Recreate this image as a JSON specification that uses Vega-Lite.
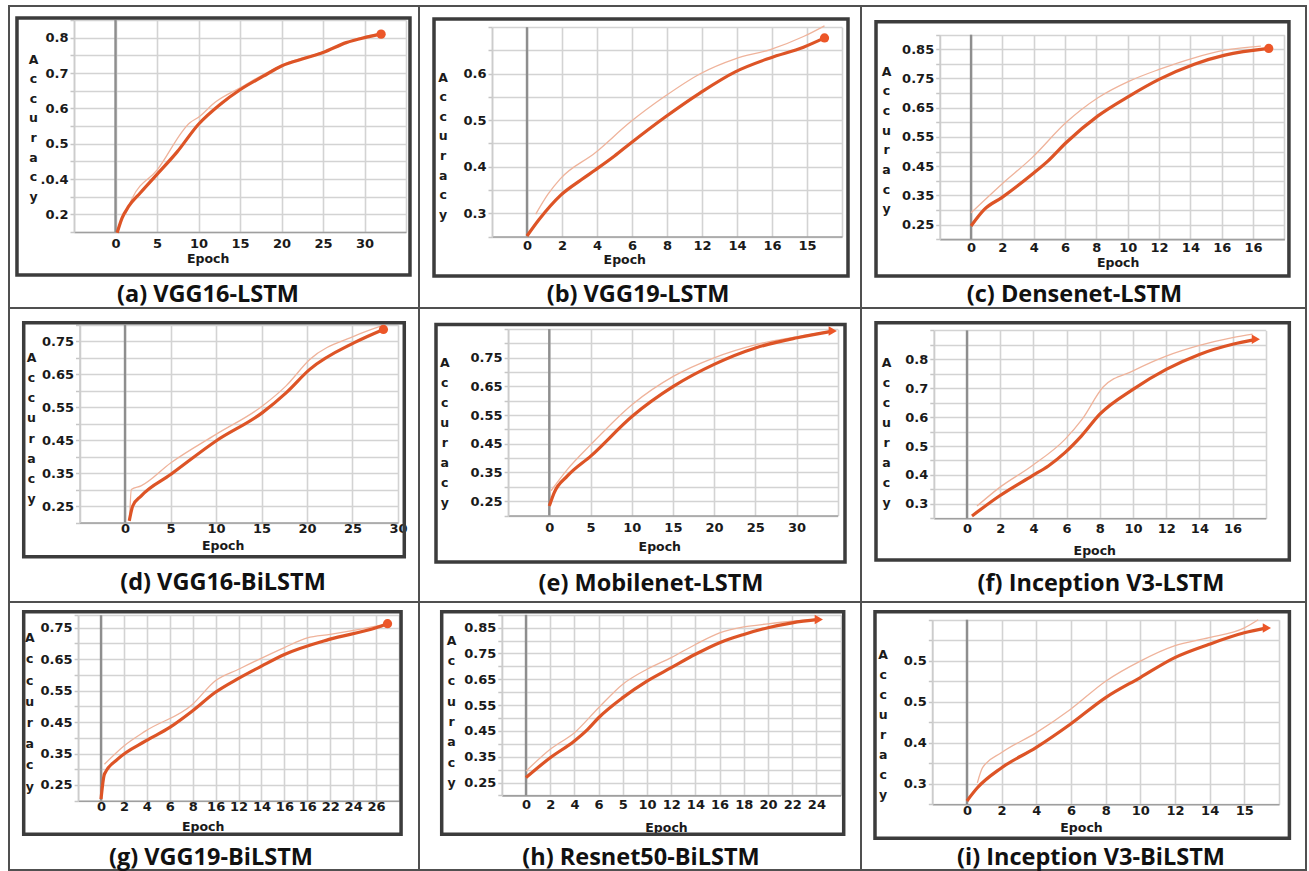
{
  "$schema": "https://vega.github.io/schema/vega-lite/v6.json",
  "padding": {"left": 8, "top": 5, "right": 4, "bottom": 2},
  "background": "white",
  "columns": 3,
  "spacing": 0,
  "bounds": "flush",
  "config": {
    "view": {"stroke": "#505050", "strokeWidth": 2, "fill": "white"},
    "axis": {
      "labelFont": "DejaVu Sans", "labelFontWeight": "bold", "labelFontSize": 13, "labelColor": "#1a1a1a",
      "titleFont": "DejaVu Sans", "titleFontWeight": "bold", "titleFontSize": 12.5, "titleColor": "#1a1a1a",
      "gridColor": "#d3d3d3", "gridWidth": 1.6, "labelOverlap": false
    },
    "title": {"font": "Open Sans", "fontWeight": "bold", "fontSize": 23.5, "color": "#111111", "anchor": "middle", "frame": "group"}
  },
  "concat": [
    {
      "width": 410, "height": 302,
      "title": {"text": "(a) VGG16-LSTM", "orient": "bottom", "offset": -25, "dx": -6},
      "data": {"values": [
        {"epoch": 0.2, "accuracy": 0.248, "series": "training"},
        {"epoch": 0.8, "accuracy": 0.29, "series": "training"},
        {"epoch": 1.6, "accuracy": 0.323, "series": "training"},
        {"epoch": 3, "accuracy": 0.361, "series": "training"},
        {"epoch": 5, "accuracy": 0.413, "series": "training"},
        {"epoch": 7.4, "accuracy": 0.476, "series": "training"},
        {"epoch": 10, "accuracy": 0.555, "series": "training"},
        {"epoch": 12.6, "accuracy": 0.611, "series": "training"},
        {"epoch": 15.1, "accuracy": 0.654, "series": "training"},
        {"epoch": 17.8, "accuracy": 0.691, "series": "training"},
        {"epoch": 20, "accuracy": 0.72, "series": "training"},
        {"epoch": 23, "accuracy": 0.743, "series": "training"},
        {"epoch": 25, "accuracy": 0.758, "series": "training"},
        {"epoch": 27.8, "accuracy": 0.786, "series": "training"},
        {"epoch": 30, "accuracy": 0.8, "series": "training"},
        {"epoch": 32, "accuracy": 0.81, "series": "training"},
        {"epoch": 1.2, "accuracy": 0.3, "series": "validation"},
        {"epoch": 2, "accuracy": 0.345, "series": "validation"},
        {"epoch": 5, "accuracy": 0.425, "series": "validation"},
        {"epoch": 9, "accuracy": 0.56, "series": "validation"},
        {"epoch": 10, "accuracy": 0.575, "series": "validation"},
        {"epoch": 12, "accuracy": 0.617, "series": "validation"},
        {"epoch": 15, "accuracy": 0.658, "series": "validation"},
        {"epoch": 20, "accuracy": 0.722, "series": "validation"},
        {"epoch": 25, "accuracy": 0.76, "series": "validation"},
        {"epoch": 30, "accuracy": 0.803, "series": "validation"},
        {"epoch": 32, "accuracy": 0.812, "series": "validation"}
      ]},
      "layer": [
        {"data": {"values": [{}]}, "mark": {"type": "rect", "filled": false, "stroke": "#3c3c3c", "strokeWidth": 3.5},
         "encoding": {"x": {"datum": -11.87}, "x2": {"datum": 35.48}, "y": {"datum": 0.1283}, "y2": {"datum": 0.8557}}},
        {"data": {"values": [{}]}, "mark": {"type": "rule", "color": "#8e8e8e", "strokeWidth": 2.4},
         "encoding": {"x": {"datum": 0}, "y": {"datum": 0.25}, "y2": {"datum": 0.85}}},
        {"transform": [{"filter": "datum.series == 'validation'"}],
         "mark": {"type": "line", "interpolate": "monotone", "color": "#efb39b", "strokeWidth": 1.3},
         "encoding": {"x": {"field": "epoch", "type": "quantitative"}, "y": {"field": "accuracy", "type": "quantitative"}}},
        {"transform": [{"filter": "datum.series == 'training'"}],
         "mark": {"type": "line", "interpolate": "monotone", "color": "#dd5426", "strokeWidth": 3.2},
         "encoding": {
           "x": {"field": "epoch", "type": "quantitative",
             "scale": {"domain": [-5, 35], "range": [65, 397], "nice": false, "zero": false},
             "axis": {"orient": "top", "offset": -226, "values": [-5, 0, 5, 10, 15, 20, 25, 30, 35], "tickCount": 100,
               "labelExpr": "['','0','5','10','15','20','25','30',''][round((datum.value+5)/5)]",
               "grid": true, "ticks": false, "tickSize": 0, "labelPadding": -11, "labelBaseline": "middle", "labelAlign": "center",
               "labelOverlap": false, "labelFlush": false, "domainColor": "#9f9f9f", "domainWidth": 1.6,
               "title": "Epoch", "titleX": 198.7, "titleY": 26, "titleAlign": "center", "titleBaseline": "middle", "titleAngle": 0}},
           "y": {"field": "accuracy", "type": "quantitative",
             "scale": {"domain": [0.25, 0.85], "range": [226, 14], "nice": false, "zero": false},
             "axis": {"orient": "left", "offset": -65, "values": [0.25, 0.3, 0.35, 0.4, 0.45, 0.5, 0.55, 0.6, 0.65, 0.7, 0.75, 0.8, 0.85], "tickCount": 100,
               "labelExpr": "['','0.2','','.0.4','','0.5','','0.6','','0.7','','0.8',''][round((datum.value-0.25)/0.05)]",
               "grid": true, "tickSize": 4, "tickColor": "#c6c6c6", "tickWidth": 1.5, "labelPadding": 2,
               "labelOverlap": false, "labelFlush": false, "domainColor": "#cccccc", "domainWidth": 1.6,
               "title": ["A", "c", "c", "u", "r", "a", "c", "y"], "titleX": -41, "titleY": 53, "titleAlign": "center", "titleBaseline": "middle", "titleAngle": 0, "titleLineHeight": 19.6}}}},
        {"transform": [{"filter": "datum.series == 'training'"}, {"joinaggregate": [{"op": "max", "field": "epoch", "as": "last"}]}, {"filter": "datum.epoch == datum.last"}],
         "mark": {"type": "point", "shape": "circle", "filled": true, "size": 85, "color": "#ec5628", "opacity": 1},
         "encoding": {"x": {"field": "epoch", "type": "quantitative"}, "y": {"field": "accuracy", "type": "quantitative"}}}
      ]
    },
    {
      "width": 442, "height": 302,
      "title": {"text": "(b) VGG19-LSTM", "orient": "bottom", "offset": -25, "dx": -2},
      "data": {"values": [
        {"epoch": 0, "accuracy": 0.251, "series": "training"},
        {"epoch": 0.7, "accuracy": 0.287, "series": "training"},
        {"epoch": 1.9, "accuracy": 0.338, "series": "training"},
        {"epoch": 3.1, "accuracy": 0.372, "series": "training"},
        {"epoch": 3.9, "accuracy": 0.393, "series": "training"},
        {"epoch": 5, "accuracy": 0.423, "series": "training"},
        {"epoch": 5.9, "accuracy": 0.45, "series": "training"},
        {"epoch": 7.9, "accuracy": 0.507, "series": "training"},
        {"epoch": 9.9, "accuracy": 0.559, "series": "training"},
        {"epoch": 11.9, "accuracy": 0.604, "series": "training"},
        {"epoch": 13.9, "accuracy": 0.634, "series": "training"},
        {"epoch": 15.8, "accuracy": 0.657, "series": "training"},
        {"epoch": 17, "accuracy": 0.677, "series": "training"},
        {"epoch": 0.5, "accuracy": 0.298, "series": "validation"},
        {"epoch": 1.2, "accuracy": 0.341, "series": "validation"},
        {"epoch": 1.9, "accuracy": 0.374, "series": "validation"},
        {"epoch": 3.9, "accuracy": 0.43, "series": "validation"},
        {"epoch": 5.9, "accuracy": 0.496, "series": "validation"},
        {"epoch": 7.9, "accuracy": 0.552, "series": "validation"},
        {"epoch": 9.9, "accuracy": 0.6, "series": "validation"},
        {"epoch": 11.9, "accuracy": 0.632, "series": "validation"},
        {"epoch": 13.9, "accuracy": 0.652, "series": "validation"},
        {"epoch": 15.8, "accuracy": 0.68, "series": "validation"},
        {"epoch": 17, "accuracy": 0.703, "series": "validation"}
      ]},
      "layer": [
        {"data": {"values": [{}]}, "mark": {"type": "rect", "filled": false, "stroke": "#3c3c3c", "strokeWidth": 3.5},
         "encoding": {"x": {"datum": -5.314}, "x2": {"datum": 18.343}, "y": {"datum": 0.1649}, "y2": {"datum": 0.7176}}},
        {"data": {"values": [{}]}, "mark": {"type": "rule", "color": "#8e8e8e", "strokeWidth": 2.4},
         "encoding": {"x": {"datum": 0}, "y": {"datum": 0.25}, "y2": {"datum": 0.7}}},
        {"transform": [{"filter": "datum.series == 'validation'"}],
         "mark": {"type": "line", "interpolate": "monotone", "color": "#efb39b", "strokeWidth": 1.3},
         "encoding": {"x": {"field": "epoch", "type": "quantitative"}, "y": {"field": "accuracy", "type": "quantitative"}}},
        {"transform": [{"filter": "datum.series == 'training'"}],
         "mark": {"type": "line", "interpolate": "monotone", "color": "#dd5426", "strokeWidth": 3.2},
         "encoding": {
           "x": {"field": "epoch", "type": "quantitative",
             "scale": {"domain": [-2, 18], "range": [73, 423], "nice": false, "zero": false},
             "axis": {"orient": "top", "offset": -230.5, "values": [-2, 0, 2, 4, 6, 8, 10, 12, 14, 16, 18], "tickCount": 100,
               "labelExpr": "['','0','2','4','6','8','12','14','16','15',''][round((datum.value+2)/2)]",
               "grid": true, "ticks": false, "tickSize": 0, "labelPadding": -9, "labelBaseline": "middle", "labelAlign": "center",
               "labelOverlap": false, "labelFlush": false, "domainColor": "#9f9f9f", "domainWidth": 1.6,
               "title": "Epoch", "titleX": 205.3, "titleY": 23, "titleAlign": "center", "titleBaseline": "middle", "titleAngle": 0}},
           "y": {"field": "accuracy", "type": "quantitative",
             "scale": {"domain": [0.25, 0.7], "range": [230.5, 21.2], "nice": false, "zero": false},
             "axis": {"orient": "left", "offset": -73, "values": [0.25, 0.3, 0.35, 0.4, 0.45, 0.5, 0.55, 0.6, 0.65, 0.7], "tickCount": 100,
               "labelExpr": "['','0.3','','0.4','','0.5','','0.6','',''][round((datum.value-0.25)/0.05)]",
               "grid": true, "tickSize": 4, "tickColor": "#c6c6c6", "tickWidth": 1.5, "labelPadding": 2,
               "labelOverlap": false, "labelFlush": false, "domainColor": "#cccccc", "domainWidth": 1.6,
               "title": ["A", "c", "c", "u", "r", "a", "c", "y"], "titleX": -49.3, "titleY": 71, "titleAlign": "center", "titleBaseline": "middle", "titleAngle": 0, "titleLineHeight": 19.6}}}},
        {"transform": [{"filter": "datum.series == 'training'"}, {"joinaggregate": [{"op": "max", "field": "epoch", "as": "last"}]}, {"filter": "datum.epoch == datum.last"}],
         "mark": {"type": "point", "shape": "circle", "filled": true, "size": 85, "color": "#ec5628", "opacity": 1},
         "encoding": {"x": {"field": "epoch", "type": "quantitative"}, "y": {"field": "accuracy", "type": "quantitative"}}}
      ]
    },
    {
      "width": 445, "height": 302,
      "title": {"text": "(c) Densenet-LSTM", "orient": "bottom", "offset": -25, "dx": -9},
      "data": {"values": [
        {"epoch": 0, "accuracy": 0.245, "series": "training"},
        {"epoch": 0.85, "accuracy": 0.302, "series": "training"},
        {"epoch": 1.96, "accuracy": 0.342, "series": "training"},
        {"epoch": 3.9, "accuracy": 0.422, "series": "training"},
        {"epoch": 4.9, "accuracy": 0.467, "series": "training"},
        {"epoch": 6.06, "accuracy": 0.53, "series": "training"},
        {"epoch": 8.1, "accuracy": 0.622, "series": "training"},
        {"epoch": 10.1, "accuracy": 0.69, "series": "training"},
        {"epoch": 12, "accuracy": 0.747, "series": "training"},
        {"epoch": 14.25, "accuracy": 0.799, "series": "training"},
        {"epoch": 16.2, "accuracy": 0.83, "series": "training"},
        {"epoch": 19, "accuracy": 0.853, "series": "training"},
        {"epoch": 0, "accuracy": 0.29, "series": "validation"},
        {"epoch": 1.96, "accuracy": 0.388, "series": "validation"},
        {"epoch": 3.9, "accuracy": 0.479, "series": "validation"},
        {"epoch": 6.06, "accuracy": 0.599, "series": "validation"},
        {"epoch": 8.1, "accuracy": 0.684, "series": "validation"},
        {"epoch": 10.1, "accuracy": 0.741, "series": "validation"},
        {"epoch": 12, "accuracy": 0.781, "series": "validation"},
        {"epoch": 14.25, "accuracy": 0.821, "series": "validation"},
        {"epoch": 16.2, "accuracy": 0.847, "series": "validation"},
        {"epoch": 18.5, "accuracy": 0.861, "series": "validation"}
      ]},
      "layer": [
        {"data": {"values": [{}]}, "mark": {"type": "rect", "filled": false, "stroke": "#3c3c3c", "strokeWidth": 3.5},
         "encoding": {"x": {"datum": -6.065}, "x2": {"datum": 20.29}, "y": {"datum": 0.0736}, "y2": {"datum": 0.9445}}},
        {"data": {"values": [{}]}, "mark": {"type": "rule", "color": "#8e8e8e", "strokeWidth": 2.4},
         "encoding": {"x": {"datum": 0}, "y": {"datum": 0.2}, "y2": {"datum": 0.9}}},
        {"transform": [{"filter": "datum.series == 'validation'"}],
         "mark": {"type": "line", "interpolate": "monotone", "color": "#efb39b", "strokeWidth": 1.3},
         "encoding": {"x": {"field": "epoch", "type": "quantitative"}, "y": {"field": "accuracy", "type": "quantitative"}}},
        {"transform": [{"filter": "datum.series == 'training'"}],
         "mark": {"type": "line", "interpolate": "monotone", "color": "#dd5426", "strokeWidth": 3.2},
         "encoding": {
           "x": {"field": "epoch", "type": "quantitative",
             "scale": {"domain": [-2, 20], "range": [78.7, 423.4], "nice": false, "zero": false},
             "axis": {"orient": "top", "offset": -233.1, "values": [-2, 0, 2, 4, 6, 8, 10, 12, 14, 16, 18, 20], "tickCount": 100,
               "labelExpr": "['','0','2','4','6','8','10','12','14','16','16',''][round((datum.value+2)/2)]",
               "grid": true, "ticks": false, "tickSize": 0, "labelPadding": -8, "labelBaseline": "middle", "labelAlign": "center",
               "labelOverlap": false, "labelFlush": false, "domainColor": "#9f9f9f", "domainWidth": 1.6,
               "title": "Epoch", "titleX": 256.7, "titleY": 23.6, "titleAlign": "center", "titleBaseline": "middle", "titleAngle": 0}},
           "y": {"field": "accuracy", "type": "quantitative",
             "scale": {"domain": [0.2, 0.9], "range": [233.1, 28.7], "nice": false, "zero": false},
             "axis": {"orient": "left", "offset": -78.7, "values": [0.2, 0.25, 0.3, 0.35, 0.4, 0.45, 0.5, 0.55, 0.6, 0.65, 0.7, 0.75, 0.8, 0.85, 0.9], "tickCount": 100,
               "labelExpr": "['','0.25','','0.35','','0.45','','0.55','','0.65','','0.75','','0.85',''][round((datum.value-0.2)/0.05)]",
               "grid": true, "tickSize": 4, "tickColor": "#c6c6c6", "tickWidth": 1.5, "labelPadding": 2,
               "labelOverlap": false, "labelFlush": false, "domainColor": "#cccccc", "domainWidth": 1.6,
               "title": ["A", "c", "c", "u", "r", "a", "c", "y"], "titleX": -53.7, "titleY": 65, "titleAlign": "center", "titleBaseline": "middle", "titleAngle": 0, "titleLineHeight": 19.7}}}},
        {"transform": [{"filter": "datum.series == 'training'"}, {"joinaggregate": [{"op": "max", "field": "epoch", "as": "last"}]}, {"filter": "datum.epoch == datum.last"}],
         "mark": {"type": "point", "shape": "circle", "filled": true, "size": 85, "color": "#ec5628", "opacity": 1},
         "encoding": {"x": {"field": "epoch", "type": "quantitative"}, "y": {"field": "accuracy", "type": "quantitative"}}}
      ]
    },
    {
      "width": 410, "height": 294,
      "title": {"text": "(d) VGG16-BiLSTM", "orient": "bottom", "offset": -31, "dx": 9},
      "data": {"values": [
        {"epoch": 0.47, "accuracy": 0.205, "series": "training"},
        {"epoch": 0.85, "accuracy": 0.25, "series": "training"},
        {"epoch": 1.76, "accuracy": 0.28, "series": "training"},
        {"epoch": 5.05, "accuracy": 0.346, "series": "training"},
        {"epoch": 10, "accuracy": 0.447, "series": "training"},
        {"epoch": 15.1, "accuracy": 0.533, "series": "training"},
        {"epoch": 17.7, "accuracy": 0.593, "series": "training"},
        {"epoch": 20.3, "accuracy": 0.664, "series": "training"},
        {"epoch": 25.2, "accuracy": 0.745, "series": "training"},
        {"epoch": 28.4, "accuracy": 0.785, "series": "training"},
        {"epoch": 0.5, "accuracy": 0.21, "series": "validation"},
        {"epoch": 0.7, "accuracy": 0.3, "series": "validation"},
        {"epoch": 1.76, "accuracy": 0.311, "series": "validation"},
        {"epoch": 5.05, "accuracy": 0.381, "series": "validation"},
        {"epoch": 10, "accuracy": 0.467, "series": "validation"},
        {"epoch": 15.1, "accuracy": 0.553, "series": "validation"},
        {"epoch": 17.7, "accuracy": 0.614, "series": "validation"},
        {"epoch": 20.3, "accuracy": 0.694, "series": "validation"},
        {"epoch": 25.2, "accuracy": 0.765, "series": "validation"},
        {"epoch": 28.1, "accuracy": 0.795, "series": "validation"}
      ]},
      "layer": [
        {"data": {"values": [{}]}, "mark": {"type": "rect", "filled": false, "stroke": "#3c3c3c", "strokeWidth": 3.5},
         "encoding": {"x": {"datum": -11.13}, "x2": {"datum": 30.69}, "y": {"datum": 0.0964}, "y2": {"datum": 0.8055}}},
        {"data": {"values": [{}]}, "mark": {"type": "rule", "color": "#8e8e8e", "strokeWidth": 2.4},
         "encoding": {"x": {"datum": 0}, "y": {"datum": 0.2}, "y2": {"datum": 0.8}}},
        {"transform": [{"filter": "datum.series == 'validation'"}],
         "mark": {"type": "line", "interpolate": "monotone", "color": "#efb39b", "strokeWidth": 1.3},
         "encoding": {"x": {"field": "epoch", "type": "quantitative"}, "y": {"field": "accuracy", "type": "quantitative"}}},
        {"transform": [{"filter": "datum.series == 'training'"}],
         "mark": {"type": "line", "interpolate": "monotone", "color": "#dd5426", "strokeWidth": 3.2},
         "encoding": {
           "x": {"field": "epoch", "type": "quantitative",
             "scale": {"domain": [-5, 30], "range": [70.5, 389], "nice": false, "zero": false},
             "axis": {"orient": "top", "offset": -214.5, "values": [-5, 0, 5, 10, 15, 20, 25, 30], "tickCount": 100,
               "labelExpr": "['','0','5','10','15','20','25','30'][round((datum.value+5)/5)]",
               "grid": true, "ticks": false, "tickSize": 0, "labelPadding": -6, "labelBaseline": "middle", "labelAlign": "center",
               "labelOverlap": false, "labelFlush": false, "domainColor": "#9f9f9f", "domainWidth": 1.6,
               "title": "Epoch", "titleX": 213.7, "titleY": 23, "titleAlign": "center", "titleBaseline": "middle", "titleAngle": 0}},
           "y": {"field": "accuracy", "type": "quantitative",
             "scale": {"domain": [0.2, 0.8], "range": [214.5, 16.5], "nice": false, "zero": false},
             "axis": {"orient": "left", "offset": -70.5, "values": [0.2, 0.25, 0.3, 0.35, 0.4, 0.45, 0.5, 0.55, 0.6, 0.65, 0.7, 0.75, 0.8], "tickCount": 100,
               "labelExpr": "['','0.25','','0.35','','0.45','','0.55','','0.65','','0.75',''][round((datum.value-0.2)/0.05)]",
               "grid": true, "tickSize": 4, "tickColor": "#c6c6c6", "tickWidth": 1.5, "labelPadding": 2,
               "labelOverlap": false, "labelFlush": false, "domainColor": "#cccccc", "domainWidth": 1.6,
               "title": ["A", "c", "c", "u", "r", "a", "c", "y"], "titleX": -48.5, "titleY": 49.7, "titleAlign": "center", "titleBaseline": "middle", "titleAngle": 0, "titleLineHeight": 20.1}}}},
        {"transform": [{"filter": "datum.series == 'training'"}, {"joinaggregate": [{"op": "max", "field": "epoch", "as": "last"}]}, {"filter": "datum.epoch == datum.last"}],
         "mark": {"type": "point", "shape": "circle", "filled": true, "size": 85, "color": "#ec5628", "opacity": 1},
         "encoding": {"x": {"field": "epoch", "type": "quantitative"}, "y": {"field": "accuracy", "type": "quantitative"}}}
      ]
    },
    {
      "width": 442, "height": 294,
      "title": {"text": "(e) Mobilenet-LSTM", "orient": "bottom", "offset": -30, "dx": 11},
      "data": {"values": [
        {"epoch": 0, "accuracy": 0.233, "series": "training"},
        {"epoch": 0.6, "accuracy": 0.28, "series": "training"},
        {"epoch": 2.2, "accuracy": 0.338, "series": "training"},
        {"epoch": 5.06, "accuracy": 0.408, "series": "training"},
        {"epoch": 10.1, "accuracy": 0.547, "series": "training"},
        {"epoch": 15.1, "accuracy": 0.651, "series": "training"},
        {"epoch": 20, "accuracy": 0.727, "series": "training"},
        {"epoch": 25.1, "accuracy": 0.785, "series": "training"},
        {"epoch": 30.1, "accuracy": 0.82, "series": "training"},
        {"epoch": 34.4, "accuracy": 0.843, "series": "training"},
        {"epoch": 0.2, "accuracy": 0.286, "series": "validation"},
        {"epoch": 2.2, "accuracy": 0.361, "series": "validation"},
        {"epoch": 5.06, "accuracy": 0.448, "series": "validation"},
        {"epoch": 10.1, "accuracy": 0.588, "series": "validation"},
        {"epoch": 15.1, "accuracy": 0.686, "series": "validation"},
        {"epoch": 20, "accuracy": 0.75, "series": "validation"},
        {"epoch": 25.1, "accuracy": 0.796, "series": "validation"},
        {"epoch": 30, "accuracy": 0.823, "series": "validation"},
        {"epoch": 34, "accuracy": 0.843, "series": "validation"}
      ]},
      "layer": [
        {"data": {"values": [{}]}, "mark": {"type": "rect", "filled": false, "stroke": "#3c3c3c", "strokeWidth": 3.5},
         "encoding": {"x": {"datum": -13.75}, "x2": {"datum": 35.886}, "y": {"datum": 0.038}, "y2": {"datum": 0.8662}}},
        {"data": {"values": [{}]}, "mark": {"type": "rule", "color": "#8e8e8e", "strokeWidth": 2.4},
         "encoding": {"x": {"datum": 0}, "y": {"datum": 0.2}, "y2": {"datum": 0.85}}},
        {"transform": [{"filter": "datum.series == 'validation'"}],
         "mark": {"type": "line", "interpolate": "monotone", "color": "#efb39b", "strokeWidth": 1.3},
         "encoding": {"x": {"field": "epoch", "type": "quantitative"}, "y": {"field": "accuracy", "type": "quantitative"}}},
        {"transform": [{"filter": "datum.series == 'training'"}],
         "mark": {"type": "line", "interpolate": "monotone", "color": "#dd5426", "strokeWidth": 3.2},
         "encoding": {
           "x": {"field": "epoch", "type": "quantitative",
             "scale": {"domain": [-5, 35], "range": [89.1, 418.7], "nice": false, "zero": false},
             "axis": {"orient": "top", "offset": -207.5, "values": [-5, 0, 5, 10, 15, 20, 25, 30, 35], "tickCount": 100,
               "labelExpr": "['','0','5','10','15','20','25','30',''][round((datum.value+5)/5)]",
               "grid": true, "ticks": false, "tickSize": 0, "labelPadding": -12, "labelBaseline": "middle", "labelAlign": "center",
               "labelOverlap": false, "labelFlush": false, "domainColor": "#9f9f9f", "domainWidth": 1.6,
               "title": "Epoch", "titleX": 240.3, "titleY": 30.5, "titleAlign": "center", "titleBaseline": "middle", "titleAngle": 0}},
           "y": {"field": "accuracy", "type": "quantitative",
             "scale": {"domain": [0.2, 0.85], "range": [207.5, 21.1], "nice": false, "zero": false},
             "axis": {"orient": "left", "offset": -89.1, "values": [0.2, 0.25, 0.3, 0.35, 0.4, 0.45, 0.5, 0.55, 0.6, 0.65, 0.7, 0.75, 0.8, 0.85], "tickCount": 100,
               "labelExpr": "['','0.25','','0.35','','0.45','','0.55','','0.65','','0.75','',''][round((datum.value-0.2)/0.05)]",
               "grid": true, "tickSize": 4, "tickColor": "#c6c6c6", "tickWidth": 1.5, "labelPadding": 2,
               "labelOverlap": false, "labelFlush": false, "domainColor": "#cccccc", "domainWidth": 1.6,
               "title": ["A", "c", "c", "u", "r", "a", "c", "y"], "titleX": -63.8, "titleY": 54.7, "titleAlign": "center", "titleBaseline": "middle", "titleAngle": 0, "titleLineHeight": 20}}}},
        {"transform": [{"filter": "datum.series == 'training'"}, {"joinaggregate": [{"op": "max", "field": "epoch", "as": "last"}]}, {"filter": "datum.epoch == datum.last"}],
         "mark": {"type": "point", "shape": "triangle-right", "filled": true, "size": 90, "color": "#ec5628", "opacity": 1},
         "encoding": {"x": {"field": "epoch", "type": "quantitative"}, "y": {"field": "accuracy", "type": "quantitative"}}}
      ]
    },
    {
      "width": 445, "height": 294,
      "title": {"text": "(f) Inception V3-LSTM", "orient": "bottom", "offset": -30, "dx": 17.5},
      "data": {"values": [
        {"epoch": 0.3, "accuracy": 0.258, "series": "training"},
        {"epoch": 1.95, "accuracy": 0.327, "series": "training"},
        {"epoch": 3.9, "accuracy": 0.396, "series": "training"},
        {"epoch": 4.9, "accuracy": 0.431, "series": "training"},
        {"epoch": 5.9, "accuracy": 0.477, "series": "training"},
        {"epoch": 6.9, "accuracy": 0.535, "series": "training"},
        {"epoch": 8, "accuracy": 0.61, "series": "training"},
        {"epoch": 10, "accuracy": 0.696, "series": "training"},
        {"epoch": 12, "accuracy": 0.765, "series": "training"},
        {"epoch": 14, "accuracy": 0.817, "series": "training"},
        {"epoch": 16, "accuracy": 0.852, "series": "training"},
        {"epoch": 17.4, "accuracy": 0.869, "series": "training"},
        {"epoch": 0.6, "accuracy": 0.292, "series": "validation"},
        {"epoch": 1.95, "accuracy": 0.356, "series": "validation"},
        {"epoch": 3.9, "accuracy": 0.431, "series": "validation"},
        {"epoch": 5.9, "accuracy": 0.523, "series": "validation"},
        {"epoch": 6.93, "accuracy": 0.592, "series": "validation"},
        {"epoch": 8.2, "accuracy": 0.704, "series": "validation"},
        {"epoch": 10, "accuracy": 0.76, "series": "validation"},
        {"epoch": 12, "accuracy": 0.811, "series": "validation"},
        {"epoch": 14, "accuracy": 0.848, "series": "validation"},
        {"epoch": 16, "accuracy": 0.875, "series": "validation"},
        {"epoch": 17.2, "accuracy": 0.887, "series": "validation"}
      ]},
      "layer": [
        {"data": {"values": [{}]}, "mark": {"type": "rect", "filled": false, "stroke": "#3c3c3c", "strokeWidth": 3.5},
         "encoding": {"x": {"datum": -5.482}, "x2": {"datum": 19.416}, "y": {"datum": 0.1055}, "y2": {"datum": 0.9266}}},
        {"data": {"values": [{}]}, "mark": {"type": "rule", "color": "#8e8e8e", "strokeWidth": 2.4},
         "encoding": {"x": {"datum": 0}, "y": {"datum": 0.25}, "y2": {"datum": 0.9}}},
        {"transform": [{"filter": "datum.series == 'validation'"}],
         "mark": {"type": "line", "interpolate": "monotone", "color": "#efb39b", "strokeWidth": 1.3},
         "encoding": {"x": {"field": "epoch", "type": "quantitative"}, "y": {"field": "accuracy", "type": "quantitative"}}},
        {"transform": [{"filter": "datum.series == 'training'"}],
         "mark": {"type": "line", "interpolate": "monotone", "color": "#dd5426", "strokeWidth": 3.2},
         "encoding": {
           "x": {"field": "epoch", "type": "quantitative",
             "scale": {"domain": [-2, 18], "range": [72.8, 404.8], "nice": false, "zero": false},
             "axis": {"orient": "top", "offset": -210.25, "values": [-2, 0, 2, 4, 6, 8, 10, 12, 14, 16, 18], "tickCount": 100,
               "labelExpr": "['','0','2','4','6','8','10','12','14','16',''][round((datum.value+2)/2)]",
               "grid": true, "ticks": false, "tickSize": 0, "labelPadding": -10, "labelBaseline": "middle", "labelAlign": "center",
               "labelOverlap": false, "labelFlush": false, "domainColor": "#9f9f9f", "domainWidth": 1.6,
               "title": "Epoch", "titleX": 233.3, "titleY": 32.7, "titleAlign": "center", "titleBaseline": "middle", "titleAngle": 0}},
           "y": {"field": "accuracy", "type": "quantitative",
             "scale": {"domain": [0.25, 0.9], "range": [210.25, 22.4], "nice": false, "zero": false},
             "axis": {"orient": "left", "offset": -72.8, "values": [0.25, 0.3, 0.35, 0.4, 0.45, 0.5, 0.55, 0.6, 0.65, 0.7, 0.75, 0.8, 0.85, 0.9], "tickCount": 100,
               "labelExpr": "['','0.3','','0.4','','0.5','','0.6','','0.7','','0.8','',''][round((datum.value-0.25)/0.05)]",
               "grid": true, "tickSize": 4, "tickColor": "#c6c6c6", "tickWidth": 1.5, "labelPadding": 2,
               "labelOverlap": false, "labelFlush": false, "domainColor": "#cccccc", "domainWidth": 1.6,
               "title": ["A", "c", "c", "u", "r", "a", "c", "y"], "titleX": -47.8, "titleY": 54.7, "titleAlign": "center", "titleBaseline": "middle", "titleAngle": 0, "titleLineHeight": 20}}}},
        {"transform": [{"filter": "datum.series == 'training'"}, {"joinaggregate": [{"op": "max", "field": "epoch", "as": "last"}]}, {"filter": "datum.epoch == datum.last"}],
         "mark": {"type": "point", "shape": "triangle-right", "filled": true, "size": 90, "color": "#ec5628", "opacity": 1},
         "encoding": {"x": {"field": "epoch", "type": "quantitative"}, "y": {"field": "accuracy", "type": "quantitative"}}}
      ]
    },
    {
      "width": 410, "height": 268,
      "title": {"text": "(g) VGG19-BiLSTM", "orient": "bottom", "offset": -24, "dx": -3},
      "data": {"values": [
        {"epoch": 0, "accuracy": 0.205, "series": "training"},
        {"epoch": 0.3, "accuracy": 0.285, "series": "training"},
        {"epoch": 1.45, "accuracy": 0.332, "series": "training"},
        {"epoch": 3.9, "accuracy": 0.39, "series": "training"},
        {"epoch": 6, "accuracy": 0.433, "series": "training"},
        {"epoch": 8, "accuracy": 0.486, "series": "training"},
        {"epoch": 9.95, "accuracy": 0.544, "series": "training"},
        {"epoch": 12, "accuracy": 0.589, "series": "training"},
        {"epoch": 14, "accuracy": 0.628, "series": "training"},
        {"epoch": 16, "accuracy": 0.665, "series": "training"},
        {"epoch": 19.9, "accuracy": 0.713, "series": "training"},
        {"epoch": 24, "accuracy": 0.75, "series": "training"},
        {"epoch": 25, "accuracy": 0.763, "series": "training"},
        {"epoch": 0.3, "accuracy": 0.316, "series": "validation"},
        {"epoch": 2, "accuracy": 0.374, "series": "validation"},
        {"epoch": 3.9, "accuracy": 0.422, "series": "validation"},
        {"epoch": 8, "accuracy": 0.507, "series": "validation"},
        {"epoch": 9.95, "accuracy": 0.581, "series": "validation"},
        {"epoch": 12, "accuracy": 0.618, "series": "validation"},
        {"epoch": 16, "accuracy": 0.687, "series": "validation"},
        {"epoch": 18, "accuracy": 0.718, "series": "validation"},
        {"epoch": 20, "accuracy": 0.729, "series": "validation"},
        {"epoch": 24, "accuracy": 0.755, "series": "validation"},
        {"epoch": 25, "accuracy": 0.763, "series": "validation"}
      ]},
      "layer": [
        {"data": {"values": [{}]}, "mark": {"type": "rect", "filled": false, "stroke": "#3c3c3c", "strokeWidth": 3.5},
         "encoding": {"x": {"datum": -6.747}, "x2": {"datum": 26.18}, "y": {"datum": 0.0932}, "y2": {"datum": 0.8008}}},
        {"data": {"values": [{}]}, "mark": {"type": "rule", "color": "#8e8e8e", "strokeWidth": 2.4},
         "encoding": {"x": {"datum": 0}, "y": {"datum": 0.2}, "y2": {"datum": 0.79}}},
        {"transform": [{"filter": "datum.series == 'validation'"}],
         "mark": {"type": "line", "interpolate": "monotone", "color": "#efb39b", "strokeWidth": 1.3},
         "encoding": {"x": {"field": "epoch", "type": "quantitative"}, "y": {"field": "accuracy", "type": "quantitative"}}},
        {"transform": [{"filter": "datum.series == 'training'"}],
         "mark": {"type": "line", "interpolate": "monotone", "color": "#dd5426", "strokeWidth": 3.2},
         "encoding": {
           "x": {"field": "epoch", "type": "quantitative",
             "scale": {"domain": [-2, 26], "range": [69.1, 390], "nice": false, "zero": false},
             "axis": {"orient": "top", "offset": -198.7, "values": [-2, 0, 2, 4, 6, 8, 10, 12, 14, 16, 18, 20, 22, 24, 26], "tickCount": 100,
               "labelExpr": "['','0','2','4','6','8','16','12','14','16','16','22','24','26',''][round((datum.value+2)/2)]",
               "grid": true, "ticks": false, "tickSize": 0, "labelPadding": -6, "labelBaseline": "middle", "labelAlign": "center",
               "labelOverlap": false, "labelFlush": false, "domainColor": "#9f9f9f", "domainWidth": 1.6,
               "title": "Epoch", "titleX": 193.7, "titleY": 25.3, "titleAlign": "center", "titleBaseline": "middle", "titleAngle": 0}},
           "y": {"field": "accuracy", "type": "quantitative",
             "scale": {"domain": [0.2, 0.79], "range": [198.7, 13.2], "nice": false, "zero": false},
             "axis": {"orient": "left", "offset": -69.1, "values": [0.2, 0.25, 0.3, 0.35, 0.4, 0.45, 0.5, 0.55, 0.6, 0.65, 0.7, 0.75, 0.79], "tickCount": 100,
               "labelExpr": "['','0.25','','0.35','','0.45','','0.55','','0.65','','0.75',''][round((datum.value-0.2)/0.05)]",
               "grid": true, "tickSize": 4, "tickColor": "#c6c6c6", "tickWidth": 1.5, "labelPadding": 2,
               "labelOverlap": false, "labelFlush": false, "domainColor": "#cccccc", "domainWidth": 1.6,
               "title": ["A", "c", "c", "u", "r", "a", "c", "y"], "titleX": -48.8, "titleY": 35.7, "titleAlign": "center", "titleBaseline": "middle", "titleAngle": 0, "titleLineHeight": 21.2}}}},
        {"transform": [{"filter": "datum.series == 'training'"}, {"joinaggregate": [{"op": "max", "field": "epoch", "as": "last"}]}, {"filter": "datum.epoch == datum.last"}],
         "mark": {"type": "point", "shape": "circle", "filled": true, "size": 85, "color": "#ec5628", "opacity": 1},
         "encoding": {"x": {"field": "epoch", "type": "quantitative"}, "y": {"field": "accuracy", "type": "quantitative"}}}
      ]
    },
    {
      "width": 442, "height": 268,
      "title": {"text": "(h) Resnet50-BiLSTM", "orient": "bottom", "offset": -24, "dx": 1},
      "data": {"values": [
        {"epoch": 0, "accuracy": 0.269, "series": "training"},
        {"epoch": 2, "accuracy": 0.346, "series": "training"},
        {"epoch": 4, "accuracy": 0.411, "series": "training"},
        {"epoch": 5.1, "accuracy": 0.456, "series": "training"},
        {"epoch": 6, "accuracy": 0.501, "series": "training"},
        {"epoch": 8, "accuracy": 0.579, "series": "training"},
        {"epoch": 10, "accuracy": 0.643, "series": "training"},
        {"epoch": 12, "accuracy": 0.695, "series": "training"},
        {"epoch": 14, "accuracy": 0.747, "series": "training"},
        {"epoch": 16, "accuracy": 0.792, "series": "training"},
        {"epoch": 18, "accuracy": 0.824, "series": "training"},
        {"epoch": 20, "accuracy": 0.85, "series": "training"},
        {"epoch": 22, "accuracy": 0.869, "series": "training"},
        {"epoch": 24.2, "accuracy": 0.882, "series": "training"},
        {"epoch": 0, "accuracy": 0.294, "series": "validation"},
        {"epoch": 2, "accuracy": 0.379, "series": "validation"},
        {"epoch": 4, "accuracy": 0.443, "series": "validation"},
        {"epoch": 6, "accuracy": 0.54, "series": "validation"},
        {"epoch": 8, "accuracy": 0.631, "series": "validation"},
        {"epoch": 10, "accuracy": 0.689, "series": "validation"},
        {"epoch": 12, "accuracy": 0.734, "series": "validation"},
        {"epoch": 14, "accuracy": 0.785, "series": "validation"},
        {"epoch": 16, "accuracy": 0.83, "series": "validation"},
        {"epoch": 18, "accuracy": 0.853, "series": "validation"},
        {"epoch": 20, "accuracy": 0.865, "series": "validation"},
        {"epoch": 22, "accuracy": 0.875, "series": "validation"},
        {"epoch": 24, "accuracy": 0.882, "series": "validation"}
      ]},
      "layer": [
        {"data": {"values": [{}]}, "mark": {"type": "rect", "filled": false, "stroke": "#3c3c3c", "strokeWidth": 3.5},
         "encoding": {"x": {"datum": -6.967}, "x2": {"datum": 26.256}, "y": {"datum": 0.0492}, "y2": {"datum": 0.912}}},
        {"data": {"values": [{}]}, "mark": {"type": "rule", "color": "#8e8e8e", "strokeWidth": 2.4},
         "encoding": {"x": {"datum": 0}, "y": {"datum": 0.2}, "y2": {"datum": 0.9}}},
        {"transform": [{"filter": "datum.series == 'validation'"}],
         "mark": {"type": "line", "interpolate": "monotone", "color": "#efb39b", "strokeWidth": 1.3},
         "encoding": {"x": {"field": "epoch", "type": "quantitative"}, "y": {"field": "accuracy", "type": "quantitative"}}},
        {"transform": [{"filter": "datum.series == 'training'"}],
         "mark": {"type": "line", "interpolate": "monotone", "color": "#dd5426", "strokeWidth": 3.2},
         "encoding": {
           "x": {"field": "epoch", "type": "quantitative",
             "scale": {"domain": [-2, 26], "range": [82.8, 421.6], "nice": false, "zero": false},
             "axis": {"orient": "top", "offset": -193.4, "values": [-2, 0, 2, 4, 6, 8, 10, 12, 14, 16, 18, 20, 22, 24, 26], "tickCount": 100,
               "labelExpr": "['','0','2','4','6','5','10','12','14','16','18','20','22','24',''][round((datum.value+2)/2)]",
               "grid": true, "ticks": false, "tickSize": 0, "labelPadding": -9, "labelBaseline": "middle", "labelAlign": "center",
               "labelOverlap": false, "labelFlush": false, "domainColor": "#9f9f9f", "domainWidth": 1.6,
               "title": "Epoch", "titleX": 247, "titleY": 31.6, "titleAlign": "center", "titleBaseline": "middle", "titleAngle": 0}},
           "y": {"field": "accuracy", "type": "quantitative",
             "scale": {"domain": [0.2, 0.9], "range": [193.4, 12.8], "nice": false, "zero": false},
             "axis": {"orient": "left", "offset": -82.8, "values": [0.2, 0.25, 0.3, 0.35, 0.4, 0.45, 0.5, 0.55, 0.6, 0.65, 0.7, 0.75, 0.8, 0.85, 0.9], "tickCount": 100,
               "labelExpr": "['','0.25','','0.35','','0.45','','0.55','','0.65','','0.75','','0.85',''][round((datum.value-0.2)/0.05)]",
               "grid": true, "tickSize": 4, "tickColor": "#c6c6c6", "tickWidth": 1.5, "labelPadding": 2,
               "labelOverlap": false, "labelFlush": false, "domainColor": "#cccccc", "domainWidth": 1.6,
               "title": ["A", "c", "c", "u", "r", "a", "c", "y"], "titleX": -50.8, "titleY": 38.3, "titleAlign": "center", "titleBaseline": "middle", "titleAngle": 0, "titleLineHeight": 20.3}}}},
        {"transform": [{"filter": "datum.series == 'training'"}, {"joinaggregate": [{"op": "max", "field": "epoch", "as": "last"}]}, {"filter": "datum.epoch == datum.last"}],
         "mark": {"type": "point", "shape": "triangle-right", "filled": true, "size": 90, "color": "#ec5628", "opacity": 1},
         "encoding": {"x": {"field": "epoch", "type": "quantitative"}, "y": {"field": "accuracy", "type": "quantitative"}}}
      ]
    },
    {
      "width": 445, "height": 268,
      "title": {"text": "(i) Inception V3-BiLSTM", "orient": "bottom", "offset": -24, "dx": 7.5},
      "data": {"values": [
        {"epoch": 0, "accuracy": 0.258, "series": "training"},
        {"epoch": 0.6, "accuracy": 0.29, "series": "training"},
        {"epoch": 2, "accuracy": 0.339, "series": "training"},
        {"epoch": 3.98, "accuracy": 0.388, "series": "training"},
        {"epoch": 5.96, "accuracy": 0.445, "series": "training"},
        {"epoch": 8, "accuracy": 0.51, "series": "training"},
        {"epoch": 10, "accuracy": 0.559, "series": "training"},
        {"epoch": 11.96, "accuracy": 0.607, "series": "training"},
        {"epoch": 13.97, "accuracy": 0.64, "series": "training"},
        {"epoch": 16, "accuracy": 0.668, "series": "training"},
        {"epoch": 17.3, "accuracy": 0.68, "series": "training"},
        {"epoch": 0.6, "accuracy": 0.302, "series": "validation"},
        {"epoch": 0.9, "accuracy": 0.339, "series": "validation"},
        {"epoch": 2, "accuracy": 0.376, "series": "validation"},
        {"epoch": 3.98, "accuracy": 0.424, "series": "validation"},
        {"epoch": 5.96, "accuracy": 0.481, "series": "validation"},
        {"epoch": 8, "accuracy": 0.55, "series": "validation"},
        {"epoch": 10, "accuracy": 0.599, "series": "validation"},
        {"epoch": 11.96, "accuracy": 0.636, "series": "validation"},
        {"epoch": 13.97, "accuracy": 0.656, "series": "validation"},
        {"epoch": 16, "accuracy": 0.68, "series": "validation"},
        {"epoch": 16.8, "accuracy": 0.7, "series": "validation"}
      ]},
      "layer": [
        {"data": {"values": [{}]}, "mark": {"type": "rect", "filled": false, "stroke": "#3c3c3c", "strokeWidth": 3.5},
         "encoding": {"x": {"datum": -5.306}, "x2": {"datum": 18.6}, "y": {"datum": 0.1668}, "y2": {"datum": 0.7195}}},
        {"data": {"values": [{}]}, "mark": {"type": "rule", "color": "#8e8e8e", "strokeWidth": 2.4},
         "encoding": {"x": {"datum": 0}, "y": {"datum": 0.25}, "y2": {"datum": 0.7}}},
        {"transform": [{"filter": "datum.series == 'validation'"}],
         "mark": {"type": "line", "interpolate": "monotone", "color": "#efb39b", "strokeWidth": 1.3},
         "encoding": {"x": {"field": "epoch", "type": "quantitative"}, "y": {"field": "accuracy", "type": "quantitative"}}},
        {"transform": [{"filter": "datum.series == 'training'"}],
         "mark": {"type": "line", "interpolate": "monotone", "color": "#dd5426", "strokeWidth": 3.2},
         "encoding": {
           "x": {"field": "epoch", "type": "quantitative",
             "scale": {"domain": [-2, 18], "range": [71.3, 418], "nice": false, "zero": false},
             "axis": {"orient": "top", "offset": -202.2, "values": [-2, 0, 2, 4, 6, 8, 10, 12, 14, 16, 18], "tickCount": 100,
               "labelExpr": "['','0','2','4','6','8','10','12','14','15',''][round((datum.value+2)/2)]",
               "grid": true, "ticks": false, "tickSize": 0, "labelPadding": -6, "labelBaseline": "middle", "labelAlign": "center",
               "labelOverlap": false, "labelFlush": false, "domainColor": "#9f9f9f", "domainWidth": 1.6,
               "title": "Epoch", "titleX": 220, "titleY": 23.5, "titleAlign": "center", "titleBaseline": "middle", "titleAngle": 0}},
           "y": {"field": "accuracy", "type": "quantitative",
             "scale": {"domain": [0.25, 0.7], "range": [202.2, 17.7], "nice": false, "zero": false},
             "axis": {"orient": "left", "offset": -71.3, "values": [0.25, 0.3, 0.35, 0.4, 0.45, 0.5, 0.55, 0.6, 0.65, 0.7], "tickCount": 100,
               "labelExpr": "['','0.3','','0.4','','0.5','','0.5','',''][round((datum.value-0.25)/0.05)]",
               "grid": true, "tickSize": 4, "tickColor": "#c6c6c6", "tickWidth": 1.5, "labelPadding": 2,
               "labelOverlap": false, "labelFlush": false, "domainColor": "#cccccc", "domainWidth": 1.6,
               "title": ["A", "c", "c", "u", "r", "a", "c", "y"], "titleX": -49.6, "titleY": 52.3, "titleAlign": "center", "titleBaseline": "middle", "titleAngle": 0, "titleLineHeight": 20}}}},
        {"transform": [{"filter": "datum.series == 'training'"}, {"joinaggregate": [{"op": "max", "field": "epoch", "as": "last"}]}, {"filter": "datum.epoch == datum.last"}],
         "mark": {"type": "point", "shape": "triangle-right", "filled": true, "size": 90, "color": "#ec5628", "opacity": 1},
         "encoding": {"x": {"field": "epoch", "type": "quantitative"}, "y": {"field": "accuracy", "type": "quantitative"}}}
      ]
    }
  ]
}
